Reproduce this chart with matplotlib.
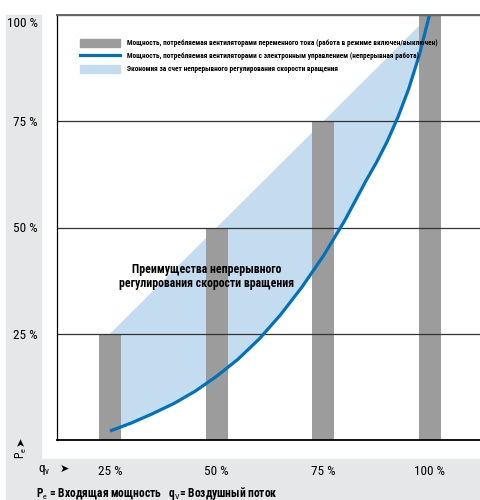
import matplotlib
matplotlib.use("Agg")
import matplotlib.pyplot as plt
from matplotlib.patches import Patch, Rectangle
from matplotlib.lines import Line2D
from matplotlib.transforms import ScaledTranslation

COND = "Roboto Condensed"
plt.rcParams['font.family'] = [COND, 'PT Sans Narrow', 'DejaVu Sans']
plt.rcParams['mathtext.fontset'] = 'custom'
plt.rcParams['mathtext.rm'] = COND
plt.rcParams['mathtext.bf'] = COND + ':bold'

# airflow steps (on/off fans run at full power for a share of the time)
steps = [25, 50, 75, 100]
step_labels = ["25 %", "50 %", "75 %", "100 %"]
onoff_power = [25, 50, 75, 100]
power_labels = ["25 %", "50 %", "75 %", "100 %"]

# EC fan input power over the airflow range
ec_flow = [25, 30, 35, 40, 45, 50, 55, 60, 65, 70, 75, 80, 85,
           87.5, 90, 92.5, 95, 97.5, 100]
ec_power = [2.1, 4.0, 6.2, 8.6, 11.5, 15.0, 19.0, 23.8, 29.5, 36.0, 43.3,
            51.6, 61.0, 65.4, 70.3, 76.0, 82.6, 90.6, 100.5]

# straight envelope of the on/off operation
env_flow = [25, 100]
env_power = [25, 100]

legend_labels = [
    "Мощность, потребляемая вентиляторами переменного тока (работа в режиме включен/выключен)",
    "Мощность, потребляемая вентиляторами с электронным управлением (непрерывная работа)",
    "Экономия за счет непрерывного регулирования скорости вращения",
]

GRAY = "#9c9c9c"
BLUE = "#0071bb"
LIGHT = "#c4dcef"
BAND = "#e6e7e8"

W, H = 480, 500
fig = plt.figure(figsize=(W / 100, H / 100), dpi=100)


def fx(px):
    return px / W


def fy(py):
    return 1 - py / H


# light gray frame behind the axis labels
fig.patches.append(Rectangle((fx(6), fy(459)), fx(41) - fx(6), fy(15) - fy(459),
                             transform=fig.transFigure, color=BAND, zorder=-1))
fig.patches.append(Rectangle((fx(6), 0), 1 - fx(6), fy(459),
                             transform=fig.transFigure, color=BAND, zorder=-1))

ax = fig.add_axes([fx(57), fy(440), fx(480) - fx(57), fy(15) - fy(440)])
ax.set_facecolor("none")

# savings area between the on/off envelope and the EC curve
ax.fill(env_flow + ec_flow[::-1], env_power + ec_power[::-1],
        color=LIGHT, lw=0, zorder=0.9)
ax.bar(steps, onoff_power, width=5.15, color=GRAY, zorder=1)
ax.plot(ec_flow, ec_power, color=BLUE, lw=2.3, zorder=2, solid_capstyle="butt")

ax.set_xlim(12.58, 111.72)
ax.set_ylim(0, 100)

ax.set_yticks(onoff_power, power_labels, fontsize=9.5)
ax.set_xticks(steps, step_labels, fontsize=9.5)
ax.tick_params(axis="y", length=0, pad=14)
ax.tick_params(axis="x", length=0, pad=18)
top_lab = ax.get_yticklabels()[-1]
top_lab.set_transform(top_lab.get_transform() + ScaledTranslation(0, -0.07, fig.dpi_scale_trans))

ax.yaxis.grid(True, color="#333333", lw=0.9)
ax.xaxis.grid(False)
ax.spines["right"].set_visible(False)
ax.spines["top"].set_color("#666666")
ax.spines["top"].set_linewidth(1.4)
ax.spines["left"].set_linewidth(0.9)
ax.spines["bottom"].set_linewidth(1.3)

handles = [Patch(color=GRAY), Line2D([], [], color=BLUE, lw=2.3), Patch(color=LIGHT)]
ax.legend(handles, legend_labels, loc="upper left",
          bbox_to_anchor=((80 - 57) / 423, (440 - 39) / 425),
          frameon=False, borderpad=0, borderaxespad=0,
          prop={"family": COND, "weight": "bold", "size": 5.3},
          handlelength=5.43, handleheight=1.22, handletextpad=0.95, labelspacing=0.65)

ax.text(0.353, 0.385, "Преимущества непрерывного\nрегулирования скорости вращения",
        transform=ax.transAxes, ha="center", va="center", fontsize=8.5,
        fontweight="bold", linespacing=1.15)

# axis names in the gray band
fig.text(fx(21), fy(441), "➤", rotation=90, ha="center", va="center",
         fontsize=8, family="DejaVu Sans")
fig.text(fx(21), fy(453), r"P$_\mathrm{e}$", rotation=90, ha="center", va="center",
         fontsize=8.5)
fig.text(fx(44), fy(470), r"q$_\mathrm{v}$", ha="center", va="center", fontsize=9.5)
fig.text(fx(64), fy(469), "➤", ha="center", va="center", fontsize=8, family="DejaVu Sans")
fig.text(fx(36), fy(493), r"P$_\mathrm{e}$ = Входящая мощность   q$_\mathrm{V}$= Воздушный поток",
         ha="left", va="center", fontsize=8.3, fontweight="bold")

fig.savefig("out.png", dpi=100)
